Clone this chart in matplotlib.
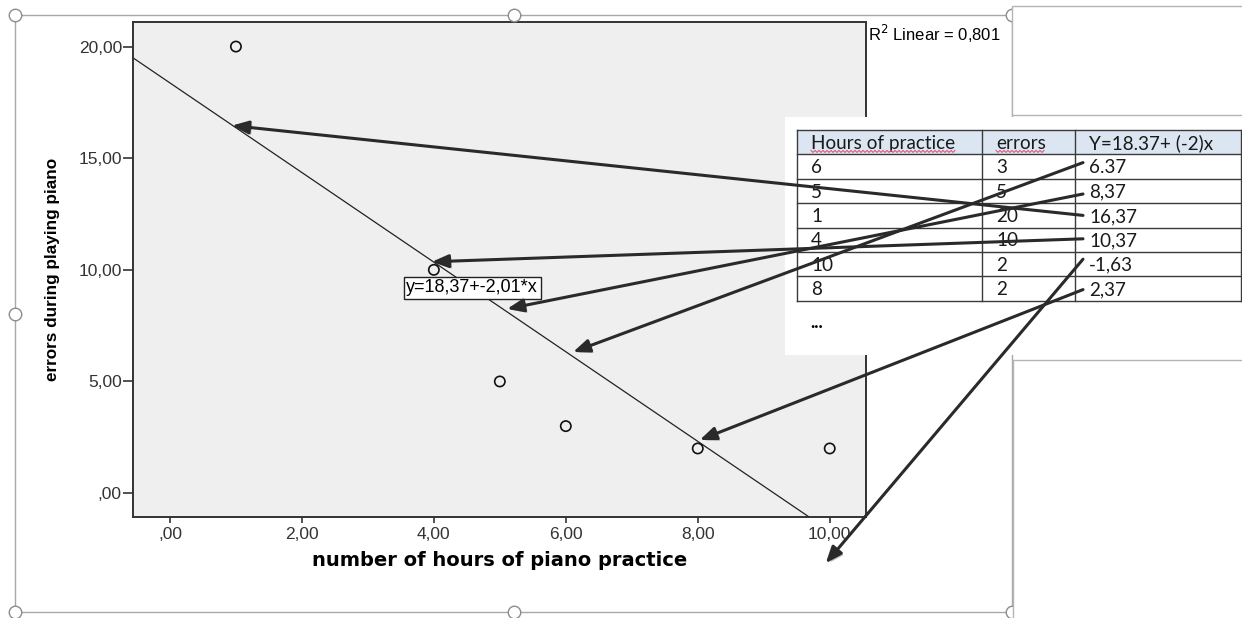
import numpy as np
import matplotlib
matplotlib.use('Agg')
from matplotlib import pyplot as plt
from matplotlib.patches import Rectangle
from matplotlib import patheffects as pe

# data (same values are in the table and in the scatter)
hours = [6, 5, 1, 4, 10, 8]
errors = [3, 5, 20, 10, 2, 2]
predicted = ['6.37', '8,37', '16,37', '10,37', '-1,63', '2,37']
header = ['Hours of practice', 'errors', 'Y=18.37+ (-2)x']

x_ticks = [0, 2, 4, 6, 8, 10]
y_ticks = [0, 5, 10, 15, 20]

# where each arrow points in the chart (data units)
arrow_x = [6.11, 5.11, 0.94, 3.97, 9.94, 8.03]
arrow_y = [6.32, 8.25, 16.46, 10.36, -3.14, 2.38]
tail_dy = [-4, 3, 0, -1, -5, 1]

W, H = 1242, 618


def comma(v, nd=2, strip=True):
    s = f"{v:.{nd}f}".replace('.', ',')
    if strip and s.startswith('0,'):
        s = s[1:]
    return s


# least squares fit
x = np.array(hours, float)
y = np.array(errors, float)
slope, icpt = np.polyfit(x, y, 1)
r2 = np.corrcoef(x, y)[0, 1] ** 2

fig = plt.figure(figsize=(W / 100, H / 100), dpi=100)
ax = fig.add_axes([133 / W, 1 - 517 / H, (866 - 133) / W, (517 - 22) / H])
ax.set_facecolor('#efefef')
ax.set_xlim(-0.56, 10.55)
ax.set_ylim(-1.07, 21.1)

xx = np.array(ax.get_xlim())
ax.plot(xx, icpt + slope * xx, color='#222222', lw=0.9, zorder=2)
ax.scatter(hours, errors, s=55, facecolors='none', edgecolors='#111111',
           linewidths=1.2, zorder=3)

for s in ['top', 'right', 'left', 'bottom']:
    ax.spines[s].set_color('#333333')
    ax.spines[s].set_linewidth(1.4)

ax.set_xticks(x_ticks)
ax.set_xticklabels([comma(v) for v in x_ticks])
ax.set_yticks(y_ticks)
ax.set_yticklabels([comma(v) for v in y_ticks])
ax.tick_params(axis='x', length=4, width=1.2, pad=3, colors='#333333',
               labelsize=12.5)
ax.tick_params(axis='y', length=7, width=1.2, pad=1, colors='#333333',
               labelsize=12.5)
for lab in ax.get_xticklabels() + ax.get_yticklabels():
    lab.set_family('Liberation Sans')

ax.set_xlabel('number of hours of piano practice', fontsize=14,
              fontweight='bold', family='DejaVu Sans', va='center')
ax.xaxis.set_label_coords(0.5007, -0.087)
ax.set_ylabel('errors during playing piano', fontsize=12.3, fontweight='bold',
              family='Liberation Sans', va='center')
ax.yaxis.set_label_coords(-0.11, 0.5)

ax.text(1.003, 0.975, 'R$^2$ Linear = ' + comma(r2, 3, strip=False),
        transform=ax.transAxes, fontsize=12, family='Liberation Sans',
        ha='left', va='center')
ax.text(4.58, 9.19, f'y={comma(icpt)}+{comma(slope)}*x', fontsize=13,
        family='Liberation Sans', ha='center', va='center', zorder=4,
        bbox=dict(boxstyle='square,pad=0.15', fc='white', ec='#222222', lw=1))

# overlay in pixel coordinates for the slide decoration and the table
ov = fig.add_axes([0, 0, 1, 1], zorder=5)
ov.set_xlim(0, W)
ov.set_ylim(H, 0)
ov.axis('off')

# selection frame and handles
ov.add_patch(Rectangle((15, 15), 997, 597, fill=False, ec='#a8a8a8', lw=1, zorder=1))
hx = [15, 514, 1012, 15, 15, 514, 1012]
hy = [15, 15, 15, 314, 612, 612, 612]
ov.plot(hx, hy, 'o', ms=9, mfc='white', mec='#8c8c8c', mew=1, zorder=1.5,
        clip_on=False)

# neighbouring boxes on the slide
ov.add_patch(Rectangle((1012, 6), 240, 109, fc='white', ec='#b4b4b4', lw=1, zorder=2))
ov.add_patch(Rectangle((1013, 360), 240, 270, fc='white', ec='#b4b4b4', lw=1, zorder=2))

# white panel behind the table
ov.add_patch(Rectangle((785, 117), 470, 238, fc='white', ec='none', zorder=3))

# table
cols = [797, 982, 1075, 1241]
top, rh = 130, 24.4
nrows = len(hours) + 1
ov.add_patch(Rectangle((cols[0], top), cols[-1] - cols[0], rh, fc='#dce6f2',
                       ec='none', zorder=3.5))
for i in range(nrows + 1):
    ov.plot([cols[0], cols[-1]], [top + i * rh] * 2, color='#3a3a3a', lw=1, zorder=4)
for c in cols:
    ov.plot([c, c], [top, top + nrows * rh], color='#3a3a3a', lw=1, zorder=4)

rows = [header] + [[str(h), str(e), p] for h, e, p in zip(hours, errors, predicted)]
cells = []
for r, row in enumerate(rows):
    for c, txt in enumerate(row):
        t = ov.text(cols[c] + 14, top + (r + 0.5) * rh + 1, txt, fontsize=13.6,
                    family='Lato', color='#1a1a1a', ha='left', va='center',
                    zorder=4.5)
        cells.append(t)
ov.text(810, 322, '...', fontsize=13, family='Lato', fontweight='bold',
        ha='left', va='center', zorder=4.5)

# spell-check squiggles under the first two header words
fig.canvas.draw()
inv = ov.transData.inverted()
for t in cells[:2]:
    bb = t.get_window_extent()
    (x0, _), (x1, _) = inv.transform([[bb.x0, 0], [bb.x1, 0]])
    yb = top + rh - 3
    zx = np.arange(x0, x1, 2.0)
    zy = yb + np.where(np.arange(len(zx)) % 2 == 0, -1, 1)
    ov.plot(zx, zy, color='#e05a7a', lw=0.8, zorder=4.6)

# arrows from table values to the regression line
for i in range(len(hours)):
    ty = top + (i + 1.5) * rh + tail_dy[i]
    ov.annotate('', xy=(arrow_x[i], arrow_y[i]), xycoords=ax.transData,
                xytext=(1083, ty), textcoords='data', annotation_clip=False,
                arrowprops=dict(arrowstyle='-|>,head_length=0.7,head_width=0.28',
                                color='#2a2a2a', lw=2.2, shrinkA=0, shrinkB=0,
                                mutation_scale=14,
                                path_effects=[pe.SimplePatchShadow(offset=(1.5, -1.5), alpha=0.25),
                                              pe.Normal()]),
                zorder=6)

fig.savefig('out.png', dpi=100)
